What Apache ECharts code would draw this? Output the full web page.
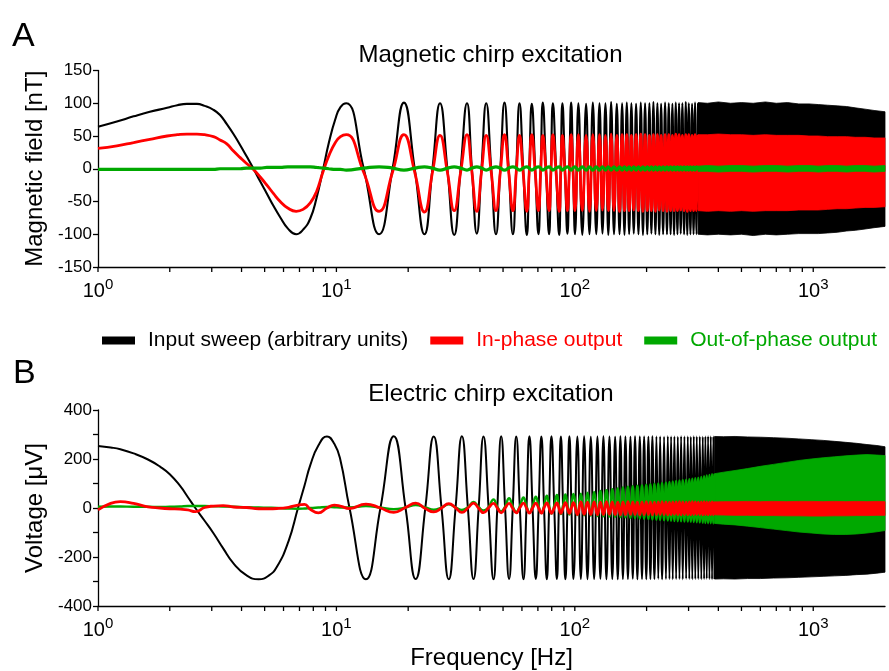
<!DOCTYPE html>
<html><head><meta charset="utf-8">
<script src="https://cdn.jsdelivr.net/npm/echarts@6/dist/echarts.min.js"></script>
<style>html,body{margin:0;padding:0;background:#fff}#c{width:889px;height:671px}</style>
</head><body><div id="c"></div>
<script>
const FONT = '"Liberation Sans", Arial, Helvetica, sans-serif';
const NAME_INPUT = 'Input sweep (arbitrary units)';
const NAME_IN = 'In-phase output';
const NAME_OUT = 'Out-of-phase output';
const C_BLACK = '#000000', C_RED = '#ff0000', C_GREEN = '#00a800';

// x-axis ticks (log axis, Hz)
const xTickValues = [1,2,3,4,5,6,7,8,9,10,20,30,40,50,60,70,80,90,100,200,300,400,500,600,700,800,900,1000];

// ---------- Panel A: magnetic chirp (traced extrema / crossings) ----------
const magFreq = [
 1.0,1.2,1.41,1.65,1.95,2.15,2.36,2.6,2.8,3.05,3.25,3.47,3.7,3.95,4.2,4.49,4.8,5.11,5.45,5.81,6.25,6.78,7.25,7.77,8.25,8.78,9.3,9.9,10.4,
 11.0,13.0,15.1,17.2,19.2,21.3,23.4,25.3,27.2,29.2,
 31.2,33.2,35.3,37.0,38.8,40.6,42.5,44.6,46.7,48.7,
 50.7,52.8,55.0,56.8,58.6,60.7,62.9,64.4,66.0,68.2,
 70.4,71.9,73.4,75.7,78.0,79.4,80.9,83.4,86.0,87.3,
 88.7,90.9,93.1,94.8,96.5,98.3,100.2,
 103.5,107.5,111.5,115.2,119.0,123.0,126.9,130.6,134.4,138.2,
 142.0,146.0,150.0,154.0,157.9,161.5,165.2,169.0,172.7,176.7,
 180.7,184.9,189.1,193.1,197.1,201.3,205.5,209.5,213.6,217.8,
 222.0,226.0,230.1,234.6,239.1,243.5,247.8,252.2,256.6,260.8,
 265.1,269.4,273.7,278.1,282.6,287.3,292.0,296.3,300.6,305.4,
 310.3,314.8,319.4,324.1,328.8
];
const magInput = [
 64,72,80,87,93,97,99,99,96,90,82,68,53,36,19,0,-20,-38,-57,-74,-91,-100,-93,-76,-45,-2,40,76,94,
 100,1,-100,0,101,0,-100,1,100,0,
 -101,0,100,0,-99,1,100,0,-100,0,
 101,0,-100,0,100,1,-101,0,99,0,
 -100,0,101,0,-100,0,100,1,-101,0,
 100,0,-99,0,101,0,-100,
 100,-101,99,-100,101,-100,100,-99,100,-101,
 102,-100,99,-100,100,-101,101,-100,100,-99,
 99,-100,101,-101,100,-100,100,-99,102,-100,
 100,-101,99,-100,101,-100,100,-100,99,-101,
 101,-100,100,-99,100,-100,102,-101,100,-100,
 99,-100,101,-100,100
];
const magInPhase = [
 31,35,40,45,50,52,53,53,52,49,44,38,27,17,8,-1,-13,-25,-38,-50,-60,-65,-62,-52,-35,-5,20,40,49,
 52,-5,-65,-5,52,-5,-66,-5,51,-5,
 -64,-5,52,-5,-65,-5,51,-5,-64,-5,
 52,-5,-64,-5,51,-5,-65,-5,52,-5,
 -64,-5,51,-5,-64,-5,52,-5,-65,-5,
 51,-5,-64,-5,52,-5,-64,
 52,-64,51,-65,52,-64,52,-63,51,-64,
 53,-64,51,-65,52,-64,52,-64,51,-63,
 52,-64,53,-65,52,-64,51,-64,52,-65,
 52,-63,51,-64,52,-65,52,-64,51,-64,
 53,-64,52,-63,51,-64,52,-65,52,-64,
 51,-64,52,-64,52
];
const magOutPhase = [
 -1,-1,-1,-1,-1,-1,-1,-1,-1,-1,0,0,0,0,1,1,1,2,2,2,3,3,3,3,2,1,0,-1,-1,
 -2,1,3,1,-2,1,3,1,-2,1,
 3,1,-2,1,3,1,-2,1,3,1,
 -2,1,3,1,-2,1,3,1,-2,1,
 3,1,-2,1,3,1,-2,1,3,1,
 -2,1,3,1,-2,1,3,
 -2,3,-2,3,-2,3,-2,3,-2,3,
 -2,3,-2,3,-2,3,-2,3,-2,3,
 -2,3,-2,3,-2,3,-2,3,-2,3,
 -2,3,-2,3,-2,3,-2,3,-2,3,
 -2,3,-2,3,-2,3,-2,3,-2,3,
 -2,3,-2,3,-2
];
// dense region envelopes (panel A)
const magBandFreq = [328.8,360,400,450,500,560,630,700,780,870,960,1050,1150,1260,1380,1500,1650,1800,2000];
const magInputUpper = [101,100,102,100,101,100,102,100,101,99,99,98,97,96,95,93,91,89,87];
const magInputLower = [-100,-101,-100,-101,-100,-102,-100,-101,-100,-99,-99,-99,-98,-97,-95,-94,-92,-90,-88];
const magInPhaseUpper = [52,52,53,52,52,51,52,51,51,51,50,50,49,49,49,48,48,47,47];
const magInPhaseLower = [-64,-65,-64,-65,-64,-65,-64,-64,-64,-63,-63,-63,-62,-61,-61,-60,-59,-59,-58];
const magOutUpper = [4,5,4,5,5,4,5,5,4,5,5,4,5,5,4,5,5,4,5];
const magOutLower = [-4,-4,-5,-4,-4,-5,-4,-4,-5,-4,-4,-5,-4,-4,-5,-4,-4,-5,-4];

// ---------- Panel B: electric chirp ----------
const elecFreq = [
 1.0,1.13,1.24,1.41,1.62,1.82,2.0,2.21,2.38,2.56,2.8,3.05,3.35,3.7,4.2,4.72,5.2,5.63,6.3,6.9,7.35,7.77,8.4,9.13,9.8,10.37,
 11.35,13.3,15.3,17.4,19.5,21.5,23.6,25.6,27.6,29.6,
 31.6,33.6,35.6,37.6,39.5,41.4,43.5,45.6,47.3,49.1,
 51.0,53.0,54.9,56.8,58.8,60.9,62.7,64.5,66.5,68.6,
 70.5,72.4,74.3,76.3,78.0,79.8,82.0,84.1,85.7,87.4,
 89.3,91.3,93.1,94.9,96.8,98.7,
 102.5,106.0,109.4,113.0,116.7,120.5,124.4,128.0,131.8,135.7,
 139.7,143.6,147.6,151.4,155.3,159.1,163.0,167.0,171.1,175.0,
 178.9,183.0,187.3,191.3,195.3,199.4,203.5,207.5,211.5,215.7,
 219.9,223.9,227.9,232.3,236.8,241.1,245.5,249.4,253.4,257.5,
 261.6,266.0,270.4,274.7,279.1,283.6,288.2,293.0,297.8,302.1,
 306.5,311.0,315.5,320.1,324.7,329.5,334.3,339.2,344.1,348.5,
 352.9,357.5,362.2,367.0,371.7,376.4,381.2,385.5
];
const elecInput = [
 253,247,240,223,198,169,138,90,45,0,-52,-103,-165,-226,-275,-291,-276,-240,-135,0,92,175,255,292,262,200,
 0,-291,0,293,0,-290,1,292,0,-291,
 0,293,0,-290,0,292,0,-291,0,293,
 0,-290,0,292,0,-291,0,293,0,-290,
 0,292,0,-291,0,293,0,-290,0,292,
 0,-291,0,293,0,-290,
 292,-290,293,-291,291,-290,292,-289,293,-291,
 292,-290,291,-291,293,-290,292,-290,291,-289,
 293,-291,292,-290,292,-291,291,-290,293,-290,
 292,-289,292,-291,291,-290,293,-290,292,-291,
 292,-290,291,-290,293,-291,292,-289,292,-290,
 291,-291,293,-290,292,-290,292,-291,291,-290,
 292,-289,293,-290,292,-291,292,-290
];
const elecOutPhase = [
 5,6,6,5,5,4,5,6,8,8,8,7,6,5,3,2,1,0,-2,-3,-2,0,2,4,3,2,
 2,8,2,-5,2,12,2,-7,2,15,
 3,-8,3,25,4,-10,4,35,5,-14,
 6,40,6,-16,7,43,7,-19,8,46,
 8,-21,9,50,10,-23,10,53,11,-25,
 12,55,12,-27,13,57,
 -29,58,-30,62,-32,66,-33,70,-34,73,
 -35,77,-36,80,-37,84,-38,87,-40,89,
 -41,91,-43,93,-44,95,-45,97,-47,99,
 -48,100,-49,102,-50,104,-51,106,-52,108,
 -53,110,-54,112,-54,114,-55,116,-55,118,
 -56,120,-57,122,-58,124,-59,127,-60,130,
 -61,133,-62,135,-62,138,-63,140
];
const elecInPhase = [
 -8,19,26,19,5,0,-3,-5,-8,-15,2,8,10,4,2,-3,-3,-2,3,12,15,-5,-20,0,12,8,
 -2,16,0,-18,2,20,-2,-16,0,18,
 1,-18,0,20,-1,-19,1,19,0,-20,
 0,19,-1,-20,1,20,0,-21,0,20,
 0,-21,1,21,0,-22,0,21,1,-22,
 0,22,0,-22,1,22,
 -27,25,-26,24,-27,25,-28,24,-27,26,
 -26,25,-27,24,-28,25,-27,26,-26,25,
 -27,24,-28,25,-27,26,-27,25,-28,24,
 -27,25,-26,26,-27,25,-28,24,-27,25,
 -26,25,-27,26,-28,25,-27,24,-27,25,
 -28,26,-27,25,-26,24,-27,25,-28,26,
 -27,25,-28,24,-27,25,-28,26
];
// dense region envelopes (panel B)
const elecBandFreq = [385.5,420,470,530,600,680,770,870,980,1100,1230,1370,1520,1680,1850,2000];
const elecInputUpper = [292,291,292,290,289,287,285,282,279,276,272,268,264,259,255,250];
const elecInputLower = [-290,-289,-290,-288,-288,-286,-285,-283,-281,-279,-277,-275,-272,-270,-266,-262];
const elecOutUpper = [140,146,153,161,170,178,186,194,200,205,209,213,216,218,216,214];
const elecOutLower = [-63,-66,-69,-74,-80,-86,-92,-98,-102,-106,-108,-108,-106,-102,-97,-92];
const elecInUpper = [25,26,26,27,26,27,26,27,27,26,27,26,27,26,27,26];
const elecInLower = [-28,-29,-30,-30,-31,-31,-32,-32,-33,-33,-32,-32,-31,-31,-30,-30];

// ---------- builders ----------
function lineSeries(name, gi, freqs, vals, color, width, z) {
  return {
    type: 'line', name: name, xAxisIndex: gi, yAxisIndex: gi,
    data: freqs.map(function (f, i) { return [f, vals[i]]; }),
    showSymbol: false, symbol: 'none', smooth: 0.5, silent: true,
    color: color, itemStyle: { color: color },
    lineStyle: { color: color, width: width }, z: z, animation: false
  };
}
function bandSeries(name, gi, freqs, up, lo, color, z) {
  return {
    type: 'custom', name: name, xAxisIndex: gi, yAxisIndex: gi, silent: true, z: z,
    color: color, itemStyle: { color: color },
    data: freqs.map(function (f, i) { return [f, up[i], lo[i]]; }),
    encode: { x: 0, y: [1, 2] },
    renderItem: function (params, api) {
      if (params.dataIndex !== 0) return null;
      var pts = [];
      for (var i = 0; i < freqs.length; i++) pts.push(api.coord([freqs[i], up[i]]));
      for (var j = freqs.length - 1; j >= 0; j--) pts.push(api.coord([freqs[j], lo[j]]));
      return { type: 'polygon', shape: { points: pts }, style: { fill: color, stroke: color, lineWidth: 0.8 } };
    },
    animation: false
  };
}
function tickSeries(gi, yMin) {
  return {
    type: 'custom', xAxisIndex: gi, yAxisIndex: gi, silent: true, z: 20, clip: false,
    data: xTickValues.map(function (v) { return [v, yMin]; }),
    renderItem: function (params, api) {
      var p = api.coord([api.value(0), api.value(1)]);
      return { type: 'line', shape: { x1: p[0], y1: p[1], x2: p[0], y2: p[1] + 5 },
               style: { stroke: '#000', lineWidth: 1.3 } };
    },
    animation: false
  };
}
function xAxisCfg(gi, name) {
  return {
    type: 'log', logBase: 10, gridIndex: gi, min: 1, max: 2000,
    axisLine: { onZero: false, lineStyle: { color: '#000', width: 1.3 } },
    axisTick: { show: false }, splitLine: { show: false }, minorTick: { show: false },
    axisLabel: {
      margin: 10, color: '#000', showMaxLabel: false,
      formatter: function (v) {
        var e = Math.round(Math.log10(v));
        return Math.abs(Math.pow(10, e) - v) < 1e-6 * v ? '{b|10}{s|' + e + '}' : '';
      },
      rich: {
        b: { fontSize: 20, fontFamily: FONT, lineHeight: 28, color: '#000' },
        s: { fontSize: 15, fontFamily: FONT, lineHeight: 15, verticalAlign: 'top', color: '#000' }
      }
    },
    name: name, nameLocation: 'middle', nameGap: 40,
    nameTextStyle: { fontSize: 24, fontFamily: FONT, color: '#000' }
  };
}
function yAxisCfg(gi, min, max, interval, labelStep, name) {
  return {
    type: 'value', gridIndex: gi, min: min, max: max, interval: interval,
    axisLine: { show: true, onZero: false, lineStyle: { color: '#000', width: 1.3 } },
    axisTick: { show: true, length: 5, lineStyle: { color: '#000', width: 1.3 } },
    splitLine: { show: false },
    axisLabel: {
      fontSize: 17, fontFamily: FONT, color: '#000', margin: 6,
      formatter: function (v) { return (v % labelStep === 0) ? String(v) : ''; }
    },
    name: name, nameLocation: 'middle', nameGap: 51,
    nameTextStyle: { fontSize: 24, fontFamily: FONT, color: '#000' }
  };
}

const chart = echarts.init(document.getElementById('c'), null, { renderer: 'canvas' });
chart.setOption({
  animation: false,
  backgroundColor: '#fff',
  grid: [
    { left: 98, top: 70.5, width: 787, height: 196.5 },
    { left: 98, top: 410, width: 787, height: 196 }
  ],
  xAxis: [xAxisCfg(0, ''), xAxisCfg(1, 'Frequency [Hz]')],
  yAxis: [
    yAxisCfg(0, -150, 150, 50, 50, 'Magnetic field [nT]'),
    yAxisCfg(1, -400, 400, 100, 200, 'Voltage [μV]')
  ],
  legend: {
    left: 97, top: 325, itemWidth: 33, itemHeight: 8, itemGap: 22, icon: 'rect',
    selectedMode: false,
    textStyle: { fontSize: 21, fontFamily: FONT, padding: [0, 0, 0, 8] },
    data: [
      { name: NAME_INPUT, textStyle: { color: C_BLACK } },
      { name: NAME_IN, textStyle: { color: C_RED } },
      { name: NAME_OUT, textStyle: { color: C_GREEN } }
    ]
  },
  graphic: [
    { type: 'text', x: 12, y: 37, style: { text: 'A', fontSize: 34, fontFamily: FONT, fill: '#000', verticalAlign: 'middle' } },
    { type: 'text', x: 13, y: 374, style: { text: 'B', fontSize: 34, fontFamily: FONT, fill: '#000', verticalAlign: 'middle' } },
    { type: 'text', x: 490.5, y: 55, style: { text: 'Magnetic chirp excitation', fontSize: 24, fontFamily: FONT, fill: '#000', align: 'center', verticalAlign: 'middle' } },
    { type: 'text', x: 491, y: 394, style: { text: 'Electric chirp excitation', fontSize: 24, fontFamily: FONT, fill: '#000', align: 'center', verticalAlign: 'middle' } }
  ],
  series: [
    // Panel A: black, red, green (green on top)
    lineSeries(NAME_INPUT, 0, magFreq, magInput, C_BLACK, 2.1, 2),
    bandSeries(NAME_INPUT, 0, magBandFreq, magInputUpper, magInputLower, C_BLACK, 2),
    lineSeries(NAME_IN, 0, magFreq, magInPhase, C_RED, 2.8, 3),
    bandSeries(NAME_IN, 0, magBandFreq, magInPhaseUpper, magInPhaseLower, C_RED, 3),
    lineSeries(NAME_OUT, 0, magFreq, magOutPhase, C_GREEN, 3.2, 4),
    bandSeries(NAME_OUT, 0, magBandFreq, magOutUpper, magOutLower, C_GREEN, 4),
    // Panel B: black, green, red (red on top)
    lineSeries(NAME_INPUT, 1, elecFreq, elecInput, C_BLACK, 2, 2),
    bandSeries(NAME_INPUT, 1, elecBandFreq, elecInputUpper, elecInputLower, C_BLACK, 2),
    lineSeries(NAME_OUT, 1, elecFreq, elecOutPhase, C_GREEN, 2.4, 3),
    bandSeries(NAME_OUT, 1, elecBandFreq, elecOutUpper, elecOutLower, C_GREEN, 3),
    lineSeries(NAME_IN, 1, elecFreq, elecInPhase, C_RED, 2.8, 4),
    bandSeries(NAME_IN, 1, elecBandFreq, elecInUpper, elecInLower, C_RED, 4),
    // x-axis ticks (decades and 2..9 subdivisions)
    tickSeries(0, -150),
    tickSeries(1, -400)
  ]
});
</script>
</body></html>
